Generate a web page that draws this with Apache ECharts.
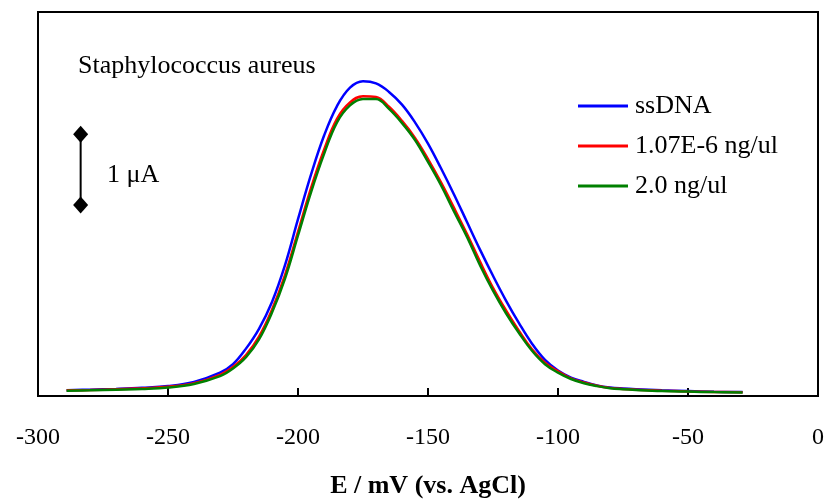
<!DOCTYPE html>
<html><head><meta charset="utf-8">
<script src="https://cdn.jsdelivr.net/npm/echarts@6/dist/echarts.min.js"></script>
<style>html,body{margin:0;padding:0;background:#fff}#c{width:828px;height:504px}</style>
</head><body><div id="c"></div>
<script>
const potentials = [-289,-280,-270,-260,-250,-240,-230,-225,-220,-215,-210,-205,-200,-195,-190,-185,-180,-175,-170,-165,-160,-155,-150,-145,-140,-135,-130,-125,-120,-115,-110,-105,-100,-95,-90,-85,-80,-75,-70,-60,-50,-40,-29];
const ssDNA = [0.08,0.09,0.10,0.115,0.14,0.20,0.33,0.45,0.67,0.95,1.33,1.85,2.50,3.13,3.68,4.10,4.36,4.45,4.42,4.30,4.12,3.87,3.57,3.22,2.85,2.46,2.07,1.70,1.35,1.03,0.74,0.51,0.36,0.26,0.20,0.15,0.12,0.105,0.095,0.08,0.07,0.06,0.055];
const conc107 = [0.08,0.085,0.095,0.11,0.13,0.18,0.30,0.41,0.58,0.84,1.22,1.71,2.32,2.94,3.48,3.92,4.15,4.24,4.23,4.09,3.89,3.65,3.35,3.02,2.66,2.29,1.90,1.53,1.21,0.92,0.66,0.47,0.35,0.25,0.19,0.145,0.115,0.10,0.09,0.075,0.065,0.058,0.052];
const conc20 = [0.075,0.08,0.09,0.10,0.12,0.17,0.28,0.39,0.55,0.80,1.18,1.66,2.27,2.88,3.42,3.87,4.11,4.20,4.20,4.06,3.86,3.62,3.31,2.98,2.61,2.25,1.85,1.49,1.17,0.89,0.64,0.45,0.33,0.24,0.18,0.14,0.11,0.095,0.085,0.07,0.062,0.055,0.05];
const seriesNames = ['ssDNA','1.07E-6 ng/ul','2.0 ng/ul'];
const seriesColors = ['#0000FF','#FF0000','#008000'];
const xTicks = [-300,-250,-200,-150,-100,-50,0];
const scaleBarX = [-283.6,-283.6];
const scaleBarY = [3.70,2.70];

const FONT = "'Liberation Serif','Times New Roman',serif";
const zip = (xs, ys) => xs.map((x,i)=>[x, ys[i]]);
const chart = echarts.init(document.getElementById('c'), null, {renderer:'canvas'});
const allSeries = [ssDNA, conc107, conc20];
chart.setOption({
  animation:false,
  backgroundColor:'#fff',
  grid:{left:38,right:10,top:12,bottom:101,show:true,borderColor:'#000',borderWidth:2,backgroundColor:'transparent'},
  xAxis:{type:'value',min:xTicks[0],max:xTicks[xTicks.length-1],interval:50,
    axisLine:{show:true,onZero:false,lineStyle:{color:'#000',width:2}},
    axisTick:{show:true,inside:true,length:8,lineStyle:{color:'#000',width:2}},
    splitLine:{show:false},
    axisLabel:{color:'#000',fontFamily:FONT,fontSize:24,margin:30},
    name:'E / mV (vs. AgCl)',nameLocation:'middle',nameGap:77,
    nameTextStyle:{color:'#000',fontFamily:FONT,fontSize:26,fontWeight:'bold'}},
  yAxis:{type:'value',min:0,max:5.43,show:true,axisLine:{show:false},axisTick:{show:false},axisLabel:{show:false},splitLine:{show:false}},
  legend:{show:true,orient:'vertical',left:573,top:88,itemWidth:50,itemHeight:3,itemGap:14,icon:'rect',
    data:seriesNames,
    textStyle:{color:'#000',fontFamily:FONT,fontSize:26,padding:[0,0,0,2]}},
  graphic:[
    {type:'text',left:78,top:53,style:{text:'Staphylococcus aureus',font:"26px "+FONT,fill:'#000'}},
    {type:'text',left:107,top:162,style:{text:'1 \u03bcA',font:"26px "+FONT,fill:'#000'}}
  ],
  series:[
    ...allSeries.map((d,i)=>({
      name:seriesNames[i],type:'line',data:zip(potentials,d),smooth:0.4,showSymbol:false,symbol:'none',
      lineStyle:{color:seriesColors[i],width:2.5},itemStyle:{color:seriesColors[i]},z:2+i
    })),
    {name:'scalebar',type:'line',data:zip(scaleBarX,scaleBarY),symbol:'diamond',symbolSize:[15,17],showSymbol:true,
     lineStyle:{color:'#000',width:2},itemStyle:{color:'#000'},z:10,silent:true}
  ]
});
</script></body></html>
